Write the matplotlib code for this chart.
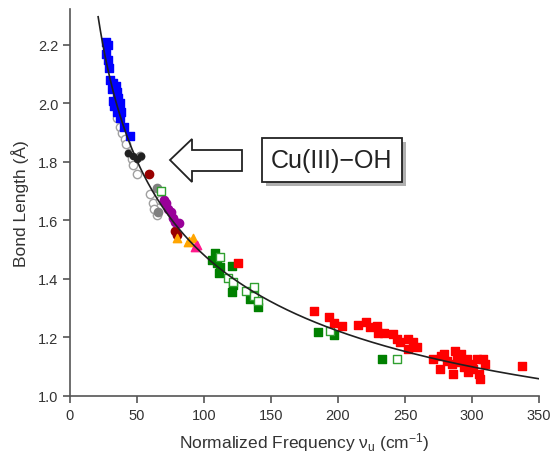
import numpy as np
import matplotlib
matplotlib.use("Agg")
import matplotlib.pyplot as plt
from matplotlib.patches import Polygon, Rectangle

plt.rcParams['font.family'] = ['Liberation Sans', 'DejaVu Sans']
plt.rcParams['mathtext.fontset'] = 'custom'
plt.rcParams['mathtext.rm'] = 'Liberation Sans'
plt.rcParams['mathtext.default'] = 'regular'

# === DATA ===
blue_x = [27, 28, 27, 28, 29, 30, 32, 34, 31, 35, 36, 32, 37, 33, 35, 38, 37, 40, 45]
blue_y = [2.21, 2.20, 2.17, 2.15, 2.12, 2.08, 2.07, 2.06, 2.05, 2.04, 2.02, 2.01, 2.00, 1.99,
          1.97, 1.97, 1.95, 1.92, 1.89]

gray_open_x = [35, 37, 39, 41, 42, 44, 46, 47, 50, 60, 62, 63, 65, 67]
gray_open_y = [1.95, 1.92, 1.90, 1.88, 1.86, 1.83, 1.81, 1.79, 1.76, 1.69, 1.66, 1.64, 1.62, 1.67]

gray_fill_x = [52, 65, 66]
gray_fill_y = [1.82, 1.71, 1.63]

black_x = [43, 47, 50, 53]
black_y = [1.83, 1.82, 1.81, 1.82]

darkred_x = [59, 78, 80]
darkred_y = [1.76, 1.565, 1.55]

purple_x = [70, 72, 73, 75, 77, 78, 81]
purple_y = [1.67, 1.66, 1.64, 1.63, 1.61, 1.595, 1.59]

orange_x = [80, 89, 92, 88]
orange_y = [1.54, 1.53, 1.54, 1.525]

magenta_x = [93, 95]
magenta_y = [1.51, 1.515]

green_fill_x = [108, 106, 110, 112, 111, 122, 121, 121, 134, 140, 185, 197, 233]
green_fill_y = [1.49, 1.465, 1.455, 1.44, 1.42, 1.38, 1.355, 1.445, 1.33, 1.305, 1.22, 1.21, 1.125]

green_open_x = [68, 112, 118, 122, 131, 137, 137, 140, 194, 244]
green_open_y = [1.70, 1.475, 1.405, 1.39, 1.36, 1.372, 1.343, 1.326, 1.223, 1.125]

red_x = [125, 182, 193, 197, 203, 215, 221, 224, 229, 230, 234, 241, 244, 246, 252, 256, 259,
         252, 271, 276, 277, 279, 281, 285, 286, 287, 289, 291, 292, 294, 296, 297, 300, 301,
         304, 305, 306, 308, 310, 337]
red_y = [1.455, 1.29, 1.27, 1.25, 1.24, 1.243, 1.252, 1.235, 1.24, 1.217, 1.217, 1.212, 1.195,
         1.183, 1.195, 1.183, 1.166, 1.161, 1.126, 1.092, 1.138, 1.144, 1.121, 1.109, 1.075,
         1.155, 1.132, 1.115, 1.144, 1.098, 1.126, 1.081, 1.109, 1.092, 1.126, 1.075, 1.058,
         1.126, 1.109, 1.104]

# points; smoothed with a quadratic in ln(nu)
curve_nu = [21, 30, 40, 47, 61, 67, 82, 97, 112, 127, 147, 174, 199, 224, 249, 300, 350]
curve_r = [2.29, 2.10, 1.92, 1.81, 1.71, 1.67, 1.57, 1.50, 1.435, 1.39, 1.335, 1.26, 1.21,
           1.18, 1.16, 1.10, 1.065]

xticks = [0, 50, 100, 150, 200, 250, 300, 350]
yticks = [1.0, 1.2, 1.4, 1.6, 1.8, 2.0, 2.2]

# === Figure ===
W, H = 555, 460
fig = plt.figure(figsize=(W / 100, H / 100), dpi=100)
ax = fig.add_axes([70 / W, 1 - 397 / H, (539 - 70) / W, (397 - 10) / H])

ms = 36
ax.scatter(gray_open_x, gray_open_y, s=ms, marker='o', facecolors='white',
           edgecolors='#a0a0a0', linewidths=1.0, zorder=3)
ax.scatter(gray_fill_x, gray_fill_y, s=ms, marker='o', color='#808080', zorder=3)
ax.scatter(black_x, black_y, s=20, marker='o', color='#202020', zorder=3)
ax.scatter(blue_x, blue_y, s=ms, marker='s', color='#0000ff', zorder=3)
ax.scatter(darkred_x, darkred_y, s=ms, marker='o', color='#990000', zorder=3)
ax.scatter(purple_x, purple_y, s=ms, marker='o', color='#990099', zorder=3)
ax.scatter(orange_x, orange_y, s=ms, marker='^', color='#ffa500', zorder=3)
ax.scatter(magenta_x, magenta_y, s=ms, marker='^', color='#ff1a8c', zorder=3)
ax.scatter(green_fill_x, green_fill_y, s=ms, marker='s', color='#008000', zorder=3)
ax.scatter(green_open_x, green_open_y, s=ms, marker='s', facecolors='white',
           edgecolors='#30a030', linewidths=1.0, zorder=3)
ax.scatter(red_x, red_y, s=ms, marker='s', color='#ff0000', zorder=3)

coef = np.polyfit(np.log(curve_nu), curve_r, 2)
nu = np.linspace(curve_nu[0], curve_nu[-1], 400)
ax.plot(nu, np.polyval(coef, np.log(nu)), color='#202020', lw=1.2, zorder=4)

ax.set_xlim(0, 350)
ax.set_ylim(1.0, 2.323)
ax.set_xticks(xticks)
ax.set_yticks(yticks)
ax.set_yticklabels([f"{v:.1f}" for v in yticks])
for s in ['top', 'right']:
    ax.spines[s].set_visible(False)
for s in ['left', 'bottom']:
    ax.spines[s].set_color('#555555')
    ax.spines[s].set_linewidth(1.2)
ax.tick_params(direction='out', length=5, width=1.2, color='#555555',
               labelcolor='#333333', labelsize=10.5)
ax.set_xlabel('Normalized Frequency ν$_{u}$ (cm$^{-1}$)', fontsize=12.5, color='#333333',
              labelpad=6)
ax.set_ylabel('Bond Length (Å)', fontsize=12.5, color='#333333', labelpad=6)

# === Arrow + label box (pixel coordinates -> figure fraction) ===
def fpt(px, py):
    return (px / W, 1 - py / H)

arrow = [fpt(170, 161), fpt(192, 140), fpt(192, 151), fpt(242, 151),
         fpt(242, 172), fpt(192, 172), fpt(192, 183)]
fig.patches.append(Polygon(arrow, closed=True, transform=fig.transFigure,
                           facecolor='white', edgecolor='#222222', lw=1.3, zorder=5))

bx0, by0, bx1, by1 = 262, 139, 402, 183
fig.patches.append(Rectangle(fpt(bx0 + 4, by1 + 4), (bx1 - bx0) / W, (by1 - by0) / H,
                             transform=fig.transFigure, facecolor='#b0b0b0',
                             edgecolor='none', zorder=4))
fig.patches.append(Rectangle(fpt(bx0, by1), (bx1 - bx0) / W, (by1 - by0) / H,
                             transform=fig.transFigure, facecolor='white',
                             edgecolor='#222222', lw=1.3, zorder=5))
fig.text((bx0 + bx1) / 2 / W, 1 - (by0 + by1) / 2 / H, 'Cu(III)\u2212OH', fontsize=18,
         ha='center', va='center', color='#222222', zorder=6)

fig.savefig('out.png', dpi=100)
